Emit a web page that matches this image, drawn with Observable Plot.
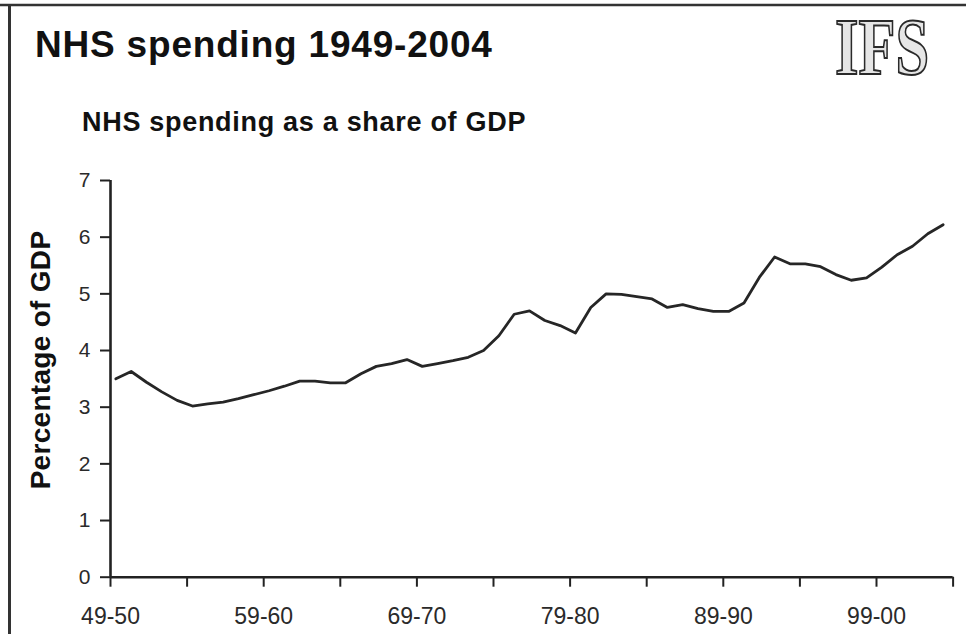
<!DOCTYPE html>
<html>
<head>
<meta charset="utf-8">
<script src="https://cdn.jsdelivr.net/npm/d3@7"></script>
<script src="https://cdn.jsdelivr.net/npm/@observablehq/plot@0.6"></script>
<style>
  html, body { margin: 0; padding: 0; background: #fff; }
  #wrap { position: relative; width: 966px; height: 634px; overflow: hidden; background: #fff; }
  #wrap > svg { position: absolute; left: 0; top: 0; }
</style>
</head>
<body>
<div id="wrap"></div>
<script>
// Fiscal years (start year) and labels
const startYears = [1949,1950,1951,1952,1953,1954,1955,1956,1957,1958,1959,1960,1961,1962,1963,1964,1965,1966,1967,1968,1969,1970,1971,1972,1973,1974,1975,1976,1977,1978,1979,1980,1981,1982,1983,1984,1985,1986,1987,1988,1989,1990,1991,1992,1993,1994,1995,1996,1997,1998,1999,2000,2001,2002,2003];
// NHS spending as a share of GDP (%)
const shareOfGDP = [3.50,3.63,3.44,3.27,3.12,3.02,3.06,3.09,3.15,3.22,3.29,3.37,3.46,3.46,3.43,3.43,3.59,3.72,3.77,3.84,3.72,3.77,3.82,3.88,4.00,4.26,4.64,4.70,4.53,4.44,4.31,4.76,5.00,4.99,4.95,4.91,4.76,4.81,4.74,4.69,4.69,4.84,5.29,5.65,5.53,5.53,5.48,5.34,5.24,5.28,5.47,5.69,5.84,6.06,6.22];
// Axis ticks
const xTicks = [1949,1954,1959,1964,1969,1974,1979,1984,1989,1994,1999,2004];
const xTickLabels = {1949: "49-50", 1959: "59-60", 1969: "69-70", 1979: "79-80", 1989: "89-90", 1999: "99-00"};
const yTicks = [0,1,2,3,4,5,6,7];

const data = startYears.map((y, i) => ({year: y, share: shareOfGDP[i]}));

const ink = "#222";
const chart = Plot.plot({
  width: 966,
  height: 634,
  marginLeft: 110,
  marginRight: 13.4,
  marginTop: 180,
  marginBottom: 57.3,
  style: {fontFamily: "'Liberation Sans', Arial, sans-serif", background: "transparent"},
  x: {type: "linear", domain: [1949, 2004]},
  y: {domain: [0, 7]},
  marks: [
    Plot.axisY({ticks: yTicks, anchor: "left", label: null, tickSize: 10, tickPadding: 10, fontSize: 21, stroke: ink, strokeWidth: 2, fill: "#2a2a2a", tickFormat: d => String(d)}),
    Plot.axisX({ticks: xTicks, anchor: "bottom", label: null, tickSize: 10, tickPadding: 20, fontSize: 23, stroke: ink, strokeWidth: 2, fill: "#2a2a2a", tickFormat: d => xTickLabels[d] ?? ""}),
    Plot.ruleX([1949], {stroke: ink, strokeWidth: 2.6}),
    Plot.ruleY([0], {stroke: ink, strokeWidth: 2.6}),
    // fiscal-year point plotted a third of the way into its year
    Plot.line(data, {x: d => d.year + 0.35, y: "share", stroke: "#262626", strokeWidth: 2.8, strokeLinejoin: "round"})
  ]
});
document.getElementById("wrap").appendChild(chart);

// Overlay with titles, axis title, logo and frame
const ns = "http://www.w3.org/2000/svg";
const ov = document.createElementNS(ns, "svg");
ov.setAttribute("width", 966);
ov.setAttribute("height", 634);
ov.setAttribute("style", "position:absolute;left:0;top:0;pointer-events:none");
ov.innerHTML = `
  <line x1="0" y1="5" x2="966" y2="5" stroke="#333" stroke-width="2.5"/>
  <line x1="9.5" y1="4" x2="9.5" y2="634" stroke="#333" stroke-width="3"/>
  <text x="35" y="56.7" font-family="'Liberation Sans', Arial, sans-serif" font-weight="bold" font-size="37" letter-spacing="0.8" fill="#111">NHS spending 1949-2004</text>
  <text x="82" y="130.7" font-family="'Liberation Sans', Arial, sans-serif" font-weight="bold" font-size="27" letter-spacing="0.7" fill="#111">NHS spending as a share of GDP</text>
  <text transform="translate(50,360) rotate(-90)" text-anchor="middle" font-family="'Liberation Sans', Arial, sans-serif" font-weight="bold" font-size="28" letter-spacing="0.3" fill="#111">Percentage of GDP</text>
  <text x="835" y="74" textLength="94" lengthAdjust="spacingAndGlyphs" font-family="'Liberation Serif', 'DejaVu Serif', serif" font-weight="bold" font-size="80" fill="#e6e6e6" stroke="#2a2a2a" stroke-width="2">IFS</text>
`;
document.getElementById("wrap").appendChild(ov);
</script>
</body>
</html>
